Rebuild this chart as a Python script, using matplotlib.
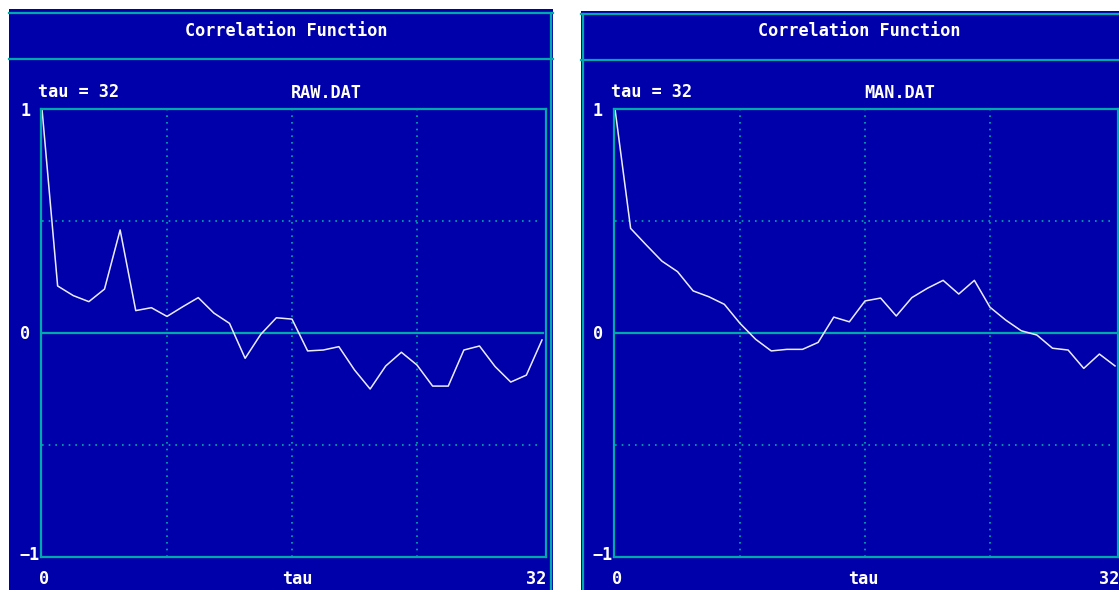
import numpy as np
import matplotlib
matplotlib.use("Agg")
import matplotlib.pyplot as plt
from matplotlib.patches import Rectangle

# Autocorrelation values for lags 0..32
tau = np.arange(33)
raw_corr = [1.00, 0.21, 0.167, 0.14, 0.196, 0.46, 0.10, 0.113, 0.074, 0.117,
            0.158, 0.089, 0.043, -0.113, -0.006, 0.068, 0.062, -0.08, -0.076,
            -0.061, -0.165, -0.25, -0.147, -0.086, -0.143, -0.237, -0.237,
            -0.076, -0.058, -0.15, -0.219, -0.188, -0.031]
man_corr = [1.00, 0.467, 0.393, 0.321, 0.274, 0.188, 0.162, 0.128, 0.043,
            -0.028, -0.08, -0.073, -0.073, -0.042, 0.071, 0.05, 0.143, 0.156,
            0.076, 0.158, 0.2, 0.235, 0.174, 0.235, 0.115, 0.058, 0.01,
            -0.009, -0.068, -0.076, -0.158, -0.094, -0.147]
files = ["RAW.DAT", "MAN.DAT"]
title = "Correlation Function"
x_ticks = ["0", "tau", "32"]
y_ticks = ["1", "0", "\u22121"]

BLUE = "#0000AA"
CYAN = "#00AAAA"
LINE = "#ECECFF"
W, H = 1119, 590
FONT = dict(family="DejaVu Sans Mono", fontweight="bold", color="white", fontsize=12.2)

fig = plt.figure(figsize=(W / 100, H / 100), dpi=100, facecolor="white")

# pixel-space canvas for the panel decoration
bg = fig.add_axes([0, 0, 1, 1], zorder=0)
bg.set_xlim(0, W)
bg.set_ylim(H, 0)
bg.axis("off")


def px_axes(x0, y0, x1, y1):
    return fig.add_axes([x0 / W, 1 - y1 / H, (x1 - x0) / W, (y1 - y0) / H], zorder=2)


panels = [
    dict(left=9, right=553, top=9, cyan_top=13, cyan_x=551, sep=59,
         box=(41, 109, 546, 557), x0=42, x1=542, data=raw_corr, name=files[0],
         title_x=286, name_x=326, tau_x=297),
    dict(left=581, right=1119, top=11, cyan_top=14, cyan_x=582.5, sep=60,
         box=(614, 109, 1118, 557), x0=615, x1=1115, data=man_corr, name=files[1],
         title_x=859, name_x=900, tau_x=863),
]

for p in panels:
    bg.add_patch(Rectangle((p["left"], p["top"]), p["right"] - p["left"],
                           H - p["top"], facecolor=BLUE, edgecolor="none"))
    bg.plot([p["left"], p["right"]], [p["cyan_top"], p["cyan_top"]], color=CYAN, lw=1.6)
    bg.plot([p["left"], p["right"]], [p["sep"], p["sep"]], color=CYAN, lw=1.6)
    bg.plot([p["cyan_x"], p["cyan_x"]], [p["cyan_top"], H], color=CYAN, lw=1.6)

    bx0, by0, bx1, by1 = p["box"]
    bg.text(p["title_x"], 31, title, ha="center", va="center", **FONT)
    bg.text(bx0 - 3, 92, "tau = 32", ha="left", va="center", **FONT)
    bg.text(p["name_x"], 93, p["name"], ha="center", va="center", **FONT)
    bg.text(bx0 - 21, 111, y_ticks[0], ha="left", va="center", **FONT)
    bg.text(bx0 - 21, 334, y_ticks[1], ha="left", va="center", **FONT)
    bg.text(bx0 - 1, 555, y_ticks[2], ha="right", va="center", **FONT)
    bg.text(p["x0"] + 2, 579, x_ticks[0], ha="center", va="center", **FONT)
    bg.text(p["tau_x"], 579, x_ticks[1], ha="center", va="center", **FONT)
    bg.text(p["x1"] + 4, 579, x_ticks[2], ha="right", va="center", **FONT)

    ax = px_axes(bx0, by0, bx1, by1)
    ax.set_facecolor("none")
    unit = (p["x1"] - p["x0"]) / 32
    ax.set_xlim(-(p["x0"] - bx0) / unit, 32 + (bx1 - p["x1"]) / unit)
    ax.set_ylim(-1, 1)
    for s in ax.spines.values():
        s.set_color(CYAN)
        s.set_linewidth(1.6)
    ax.set_xticks([])
    ax.set_yticks([])
    for xv in (8, 16, 24):
        ax.plot([xv, xv], [-1, 1], color=CYAN, lw=1.2, ls=(0, (1, 3)))
    for yv in (0.5, -0.5):
        ax.plot([0, 31.8], [yv, yv], color=CYAN, lw=1.2, ls=(0, (1, 3)))
    ax.plot([0, 32.05], [0, 0], color=CYAN, lw=1.6)
    ax.plot(tau, p["data"], color=LINE, lw=1.1)

fig.savefig("out.png", dpi=100, facecolor="white")
